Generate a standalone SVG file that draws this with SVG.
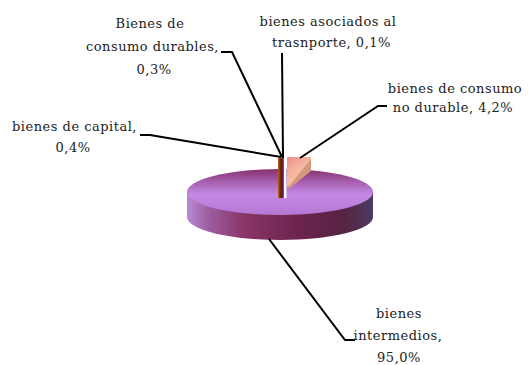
<svg xmlns="http://www.w3.org/2000/svg" width="529" height="365" viewBox="0 0 529 365">
<defs>
<linearGradient id="gTop" x1="0" y1="169" x2="0" y2="215" gradientUnits="userSpaceOnUse">
<stop offset="0" stop-color="#86306c"/>
<stop offset="0.3" stop-color="#a862b4"/>
<stop offset="0.55" stop-color="#c48ae6"/>
<stop offset="1" stop-color="#b478d2"/>
</linearGradient>
<linearGradient id="gSide" x1="187" y1="0" x2="373" y2="0" gradientUnits="userSpaceOnUse">
<stop offset="0" stop-color="#b88ad4"/>
<stop offset="0.12" stop-color="#9c5c9e"/>
<stop offset="0.3" stop-color="#8a3668"/>
<stop offset="0.6" stop-color="#6c2450"/>
<stop offset="0.85" stop-color="#552442"/>
<stop offset="1" stop-color="#4a3c62"/>
</linearGradient>
<linearGradient id="gPink" x1="287" y1="157" x2="305" y2="180" gradientUnits="userSpaceOnUse">
<stop offset="0" stop-color="#ee8e86"/>
<stop offset="0.5" stop-color="#f6b4a0"/>
<stop offset="1" stop-color="#f0c4a4"/>
</linearGradient>
<linearGradient id="gThin" x1="278" y1="0" x2="284" y2="0" gradientUnits="userSpaceOnUse">
<stop offset="0" stop-color="#c0601a"/>
<stop offset="0.5" stop-color="#5a2000"/>
<stop offset="0.75" stop-color="#6a1a40"/>
<stop offset="1" stop-color="#b048d0"/>
</linearGradient>
<style>
text{font-family:"DejaVu Serif","Liberation Serif",serif;font-size:13px;fill:#222;text-anchor:middle;letter-spacing:0.5px}
.ld{fill:none;stroke:#000;stroke-width:2}
</style>
</defs>
<rect width="529" height="365" fill="#fff"/>
<g id="pie">
<path d="M187,192 V217 A93,23 0 0 0 373,217 V192 Z" fill="url(#gSide)"/>
<ellipse cx="280" cy="192" rx="93" ry="23" fill="url(#gTop)"/>
</g>
<g id="slice-nodurable">
<polygon points="287,157 311,157 311,171 290,188 287,188" fill="#d4987c"/>
<polygon points="287,157 311,157 311,159 289,186 287,186" fill="url(#gPink)"/>
</g>
<g id="slice-thin">
<rect x="284" y="158" width="2.5" height="40" fill="#fff"/>
<rect x="278" y="158" width="6" height="40" fill="url(#gThin)"/>
</g>
<g id="connectors">
<path class="ld" d="M221,52 H232 L282,157"/>
<path class="ld" d="M282,53 L283,158"/>
<path class="ld" d="M387,106 H378 L300,158"/>
<path class="ld" d="M140,135 H150 L281,157"/>
<path class="ld" d="M269,239 L345,340 H355"/>
</g>
<g id="label-durables">
<text x="150" y="28">Bienes de</text>
<text x="152.5" y="51">consumo durables,</text>
<text x="154" y="74">0,3%</text>
</g>
<g id="label-transporte">
<text x="328" y="26">bienes asociados al</text>
<text x="331.5" y="47">trasnporte, 0,1%</text>
</g>
<g id="label-nodurable">
<text x="455" y="93">bienes de consumo</text>
<text x="453" y="112">no durable, 4,2%</text>
</g>
<g id="label-capital">
<text x="74.5" y="131">bienes de capital,</text>
<text x="73" y="152">0,4%</text>
</g>
<g id="label-intermedios">
<text x="399" y="318">bienes</text>
<text x="398" y="340">intermedios,</text>
<text x="399" y="362">95,0%</text>
</g>
</svg>
